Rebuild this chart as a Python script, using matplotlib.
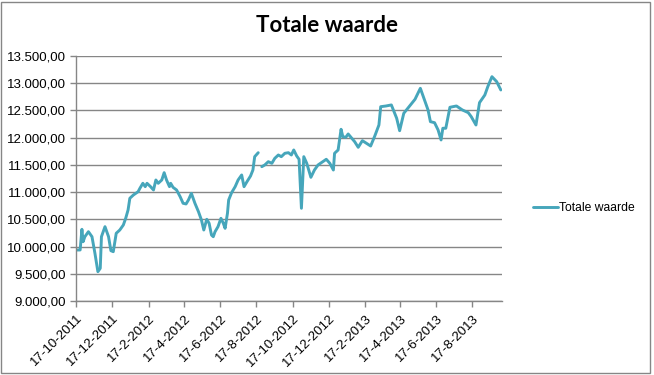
import numpy as np
import pandas as pd
import matplotlib
matplotlib.use('Agg')
import matplotlib.pyplot as plt
from matplotlib.patches import Rectangle

# data: days since the first date, value (NaN = gap)
start_date = '2011-10-17'
day_offsets = [0, 7, 10, 12, 15, 21, 27, 32, 37, 41, 43, 49, 55, 59, 63, 68, 74, 80, 84, 88,
               91, 97, 105, 108, 113, 117, 120, 126, 131, 135, 139, 145, 149, 153, 158, 160, 164, 170, 176, 181,
               186, 190, 195, 201, 207, 212, 216, 221, 225, 229, 232, 235, 240, 245, 249, 252, 256, 258, 263, 269,
               274, 280, 284, 289, 295, 299, 302, 308, 312, 314, 319, 325, 331, 336, 342, 347, 353, 359, 364, 368,
               373, 377, 381, 385, 390, 397, 403, 409, 417, 423, 429, 435, 437, 443, 448, 451, 456, 460, 466, 471,
               477, 484, 491, 498, 505, 512, 515, 524, 533, 542, 547, 554, 563, 573, 582, 588, 595, 599, 606, 612,
               617, 620, 625, 632, 643, 653, 663, 668, 676, 682, 691, 696, 703, 711, 718]
values = [9937, 9937, 10317, 10089, 10181, 10273, 10181, 9876, 9538, 9601, 10181, 10365, 10181, 9924, 9906, 10244, 10304, 10396, 10519, 10672,
          10887, 10947, 11008, 11070, 11162, 11100, 11162, 11100, 11039, 11223, 11162, 11223, 11357, 11223, 11100, 11162, 11088, 11039, 10916, 10795,
          10782, 10855, 10978, 10795, 10640, 10488, 10304, 10501, 10427, 10212, 10181, 10273, 10365, 10519, 10427, 10335, 10611, 10855, 10990, 11100,
          11223, 11315, 11100, 11192, 11296, 11406, 11651, 11724, np.nan, 11467, 11498, 11559, 11529, 11621, 11682, 11651, 11713, 11724, 11682, 11774,
          11664, 11603, 10703, 11651, 11529, 11272, 11406, 11498, 11559, 11603, 11529, 11406, 11713, 11774, 12154, 12018, 12007, 12068, 11989, 11926,
          11823, 11945, 11897, 11847, 12031, 12233, 12569, 12582, 12601, 12356, 12128, 12448, 12569, 12705, 12907, 12724, 12509, 12294, 12275, 12141,
          11958, 12173, 12173, 12558, 12582, 12509, 12459, 12386, 12233, 12643, 12784, 12937, 13120, 13029, 12876]
tick_dates = ['2011-10-17', '2011-12-17', '2012-02-17', '2012-04-17', '2012-06-17', '2012-08-17',
              '2012-10-17', '2012-12-17', '2013-02-17', '2013-04-17', '2013-06-17', '2013-08-17']
tick_labels = ['17-10-2011', '17-12-2011', '17-2-2012', '17-4-2012', '17-6-2012', '17-8-2012',
               '17-10-2012', '17-12-2012', '17-2-2013', '17-4-2013', '17-6-2013', '17-8-2013']
y_ticks = [9000, 9500, 10000, 10500, 11000, 11500, 12000, 12500, 13000, 13500]
series_name = 'Totale waarde'

dates = pd.Timestamp(start_date) + pd.to_timedelta(day_offsets, unit='D')

def nl_format(v):
    s = f'{v:,.2f}'
    return s.replace(',', 'X').replace('.', ',').replace('X', '.')

fig = plt.figure(figsize=(6.54, 3.75), dpi=100)
ax = fig.add_axes([76 / 654, 1 - 301 / 375, (502 - 76) / 654, (301 - 56) / 375])

ax.plot(dates, values, color='#46A6BB', linewidth=2.1, label=series_name,
        solid_joinstyle='round', solid_capstyle='round')

ax.set_ylim(9000, 13500)
ax.set_yticks(y_ticks)
ax.set_yticklabels([nl_format(v) for v in y_ticks], fontsize=9.5, family='Liberation Sans')
ax.set_xlim(dates[0], dates[-1] + pd.Timedelta(days=2))
ax.set_xticks(pd.to_datetime(tick_dates))
ax.set_xticklabels(tick_labels, rotation=45, ha='right', va='top', fontsize=9.5,
                   family='Liberation Sans', rotation_mode='anchor')

ax.grid(axis='y', color='#868686', linewidth=1.0)
ax.set_axisbelow(True)
for side in ['top', 'right']:
    ax.spines[side].set_visible(False)
for side in ['left', 'bottom']:
    ax.spines[side].set_color('#868686')
    ax.spines[side].set_linewidth(1.0)
ax.tick_params(axis='both', color='#868686', length=4, width=1, pad=3)
ax.tick_params(axis='x', pad=4)

fig.text(327 / 654, 1 - 26 / 375, 'Totale waarde', ha='center', va='center',
         fontsize=16, fontweight='bold', family='Lato')

fig.legend(loc='center left', bbox_to_anchor=(522 / 654, 1 - 208 / 375), frameon=False,
           handlelength=2.1, handletextpad=0.1, prop={'family': 'Liberation Sans', 'size': 8.7})

fig.patches.append(Rectangle((1 / 654, 2 / 375), 649 / 654, 371 / 375, transform=fig.transFigure,
                             fill=False, edgecolor='#868686', linewidth=1.0))

fig.savefig('out.png', dpi=100)
